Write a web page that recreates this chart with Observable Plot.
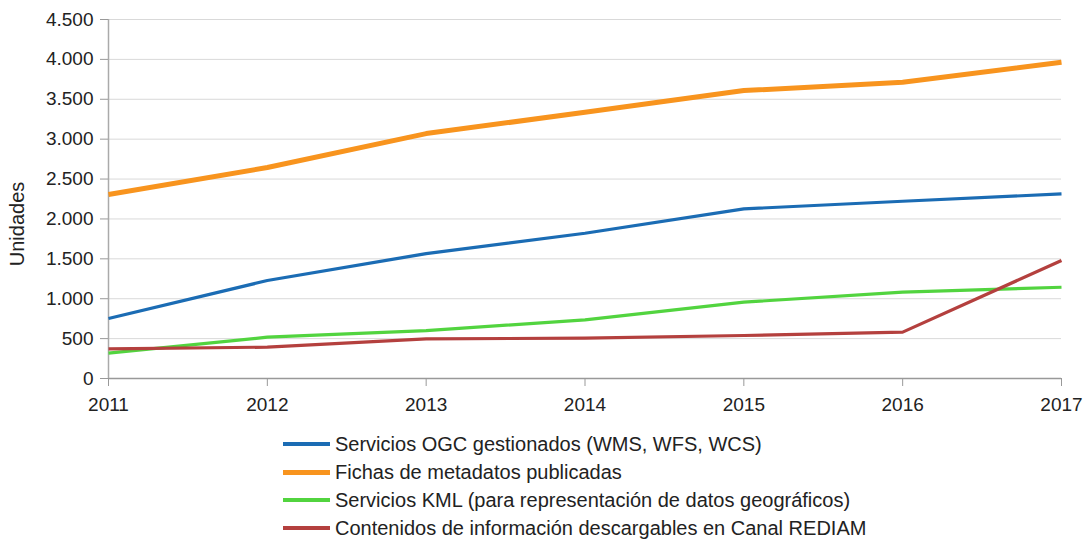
<!DOCTYPE html>
<html>
<head>
<meta charset="utf-8">
<script src="https://cdn.jsdelivr.net/npm/d3@7"></script>
<script src="https://cdn.jsdelivr.net/npm/@observablehq/plot@0.6"></script>
<style>
  html, body { margin: 0; padding: 0; background: #fff; }
  body { width: 1086px; height: 540px; overflow: hidden; font-family: "Liberation Sans", Arial, sans-serif; }
  #legend { position: absolute; left: 283px; top: 430px; font-size: 20px; color: #222; }
  .row { display: flex; align-items: center; height: 28px; }
  .sw { width: 47px; margin-right: 5px; }
</style>
</head>
<body>
<div id="chart"></div>
<div id="legend"></div>
<script>
const years = [2011, 2012, 2013, 2014, 2015, 2016, 2017];
const seriesNames = [
  "Servicios OGC gestionados (WMS, WFS, WCS)",
  "Fichas de metadatos publicadas",
  "Servicios KML (para representación de datos geográficos)",
  "Contenidos de información descargables en Canal REDIAM"
];
const ogc = [752, 1228, 1566, 1821, 2126, 2222, 2314];
const fichas = [2306, 2644, 3070, 3337, 3609, 3713, 3964];
const kml = [317, 518, 601, 735, 957, 1082, 1144];
const rediam = [372, 393, 497, 505, 539, 581, 1479];
const colors = ["#1b6cb4", "#f8941e", "#52d43f", "#b4403e"];
const widths = [3.2, 5, 3.2, 3.2];
const yTicks = [0, 500, 1000, 1500, 2000, 2500, 3000, 3500, 4000, 4500];
const yLabel = "Unidades";

const allValues = [ogc, fichas, kml, rediam];
const data = [];
seriesNames.forEach((s, i) => years.forEach((yr, j) => data.push({series: s, year: yr, value: allValues[i][j], idx: i})));

const fmt = d3.formatLocale({decimal: ",", thousands: ".", grouping: [3], currency: ["", "€"]}).format(",");

const plot = Plot.plot({
  width: 1086,
  height: 420,
  marginLeft: 108,
  marginRight: 25,
  marginTop: 19,
  marginBottom: 42,
  style: {fontFamily: "Liberation Sans, Arial, sans-serif", fontSize: "19px", color: "#222", background: "#fff", overflow: "visible"},
  x: {type: "linear", domain: [2011, 2017]},
  y: {domain: [0, 4500]},
  marks: [
    Plot.gridY(yTicks, {stroke: "#d9d9d9", strokeOpacity: 1, strokeWidth: 1}),
    Plot.ruleY([0], {stroke: "#999", strokeWidth: 1.5}),
    Plot.ruleX([2011], {stroke: "#aaa", strokeWidth: 1.5}),
    Plot.axisY(yTicks, {tickSize: 8, tickPadding: 7, tickFormat: fmt, label: null, stroke: "#999", fill: "#222"}),
    Plot.axisX(years, {tickSize: 8, tickPadding: 11, tickFormat: d => String(d), label: null, stroke: "#999", fill: "#222"}),
    ...seriesNames.map((s, i) => Plot.line(data.filter(d => d.idx === i), {
      x: "year", y: "value", stroke: colors[i], strokeWidth: widths[i], strokeLinejoin: "round", strokeLinecap: "butt"
    }))
  ]
});
document.getElementById("chart").appendChild(plot);

d3.select(plot).append("text")
  .attr("transform", "translate(24,224) rotate(-90)")
  .attr("text-anchor", "middle")
  .attr("font-size", 20)
  .attr("fill", "#222")
  .text(yLabel);

const legend = d3.select("#legend");
seriesNames.forEach((s, i) => {
  const row = legend.append("div").attr("class", "row");
  row.append("div").attr("class", "sw").style("height", (i === 1 ? 5 : 4) + "px").style("background", colors[i]);
  row.append("span").text(s);
});
</script>
</body>
</html>
